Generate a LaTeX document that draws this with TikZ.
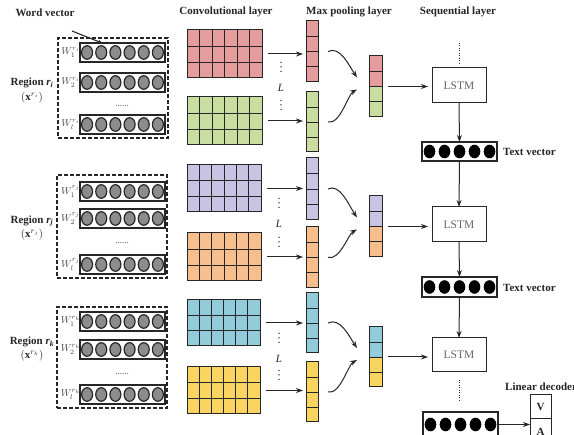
\documentclass[tikz,border=0pt]{standalone}
\usepackage{fontspec}
\setmainfont{Liberation Serif}
\usepackage{amsmath}
\usetikzlibrary{arrows.meta,calc}

\definecolor{cred}{HTML}{E59C9C}
\definecolor{cgreen}{HTML}{C9DDA0}
\definecolor{cpurple}{HTML}{C9C3E3}
\definecolor{corange}{HTML}{F8BF8E}
\definecolor{cblue}{HTML}{92CCDA}
\definecolor{cyellow}{HTML}{F9D460}
\definecolor{ink}{HTML}{262626}
\definecolor{wgray}{HTML}{8C8C8C}

\tikzset{
  lbl/.style={font=\fontsize{11}{12}\selectfont\bfseries, text=ink, inner sep=1pt},
  wlab/.style={font=\fontsize{10}{10}\selectfont, text=ink!85, inner sep=0pt},
  arr/.style={draw=ink, line width=1pt, -{Stealth[length=7pt,width=5pt]}},
  cellline/.style={draw=ink, line width=0.9pt},
  gridbox/.style={draw=ink, line width=1pt},
  regionbox/.style={draw=ink, line width=1.4pt, dash pattern=on 4pt off 2pt},
  rowbox/.style={draw=ink, line width=1.3pt, fill=white},
  lstmbox/.style={draw=ink, line width=1pt, fill=white,
    font=\fontsize{11.5}{12}\selectfont, text=ink!70},
  tvbox/.style={draw=ink, line width=1.1pt, fill=white},
  dotline/.style={draw=ink, line width=1pt, dash pattern=on 1pt off 1.5pt},
}

% rectangle node from its top-left to its bottom-right corner
\newcommand\rectat[7]{%
  \node[#1, anchor=north west, inner sep=0pt, outer sep=0pt,
        minimum width={(#5)-(#3)}, minimum height={(#6)-(#4)}] (#2) at (#3,#4) {#7};}

% convolution feature map: 6 x 3 cells
\newcommand\convgrid[6]{%
  \rectat{gridbox, fill=#6}{#1}{#2}{#3}{#4}{#5}{}
  \foreach \k in {1,...,5}
    \draw[cellline] ($(#1.north west)!\k/6!(#1.north east)$) -- ($(#1.south west)!\k/6!(#1.south east)$);
  \foreach \k in {1,2}
    \draw[cellline] ($(#1.north west)!\k/3!(#1.south west)$) -- ($(#1.north east)!\k/3!(#1.south east)$);}

% pooled column: 4 cells
\newcommand\poolcol[6]{%
  \rectat{gridbox, fill=#6}{#1}{#2}{#3}{#4}{#5}{}
  \foreach \k in {1,2,3}
    \draw[cellline] ($(#1.north west)!\k/4!(#1.south west)$) -- ($(#1.north east)!\k/4!(#1.south east)$);}

% concatenated column: two cells of each colour
\newcommand\catcol[7]{%
  \rectat{gridbox, fill=#7, path picture={\fill[#6] (path picture bounding box.north west) rectangle (path picture bounding box.east);}}{#1}{#2}{#3}{#4}{#5}{}
  \foreach \k in {1,2,3}
    \draw[cellline] ($(#1.north west)!\k/4!(#1.south west)$) -- ($(#1.north east)!\k/4!(#1.south east)$);}

% word vector row with six grey units and its label
\newcommand\wordrow[4]{%
  \rectat{rowbox}{#1}{80}{#2}{165}{#3}{}
  \foreach \k [evaluate=\k as \f using (\k-0.5)/6] in {1,...,6}
    \draw[draw=ink, line width=1.2pt, fill=wgray] ($(#1.west)!\f!(#1.east)$) ellipse (5.5pt and 6.8pt);
  \node[wlab] (#1lab) at (70.5,{(#2+#3)/2}) {$W#4$};}

% text vector with five black units
\newcommand\textvec[5]{%
  \rectat{tvbox}{#1}{#2}{#3}{#4}{#5}{}
  \foreach \k [evaluate=\k as \f using (\k-0.5)/5] in {1,...,5}
    \fill[black] ($(#1.west)!\f!(#1.east)$) ellipse (5.8pt and 6.8pt);}

% three vertical dots
\newcommand\vdotsat[3]{%
  \coordinate (#1) at (#2,#3);
  \foreach \d in {-4.5,0,4.5} \fill[ink] ($(#1)+(0,\d)$) circle (0.75pt);}

\begin{document}
\begin{tikzpicture}[x=1pt, y=-1pt]
\useasboundingbox (0,0) rectangle (574,435);
\clip (0,0) rectangle (574,435);
\fill[white] (0,0) rectangle (574,435);

% ---- column titles
\node[lbl] (twv) at (45,13) {Word vector};
\node[lbl] (tconv) at (226,12) {Convolutional layer};
\node[lbl] (tpool) at (349,12) {Max pooling layer};
\node[lbl] (tseq) at (458,12) {Sequential layer};

% ---- regions of word vectors
\rectat{regionbox}{db1}{58}{38}{168}{138}{}
\rectat{regionbox}{db2}{57}{175}{167}{278}{}
\rectat{regionbox}{db3}{57}{307}{167}{408}{}

\wordrow{ra1}{43}{62}{_1^{r_i}}
\wordrow{ra2}{73}{92}{_2^{r_i}}
\wordrow{ra3}{115}{134}{_l^{r_i}}
\wordrow{rb1}{182}{201}{_1^{r_j}}
\wordrow{rb2}{209}{228}{_2^{r_j}}
\wordrow{rb3}{255}{274}{_l^{r_j}}
\wordrow{rc1}{312}{331}{_1^{r_k}}
\wordrow{rc2}{340}{359}{_2^{r_k}}
\wordrow{rc3}{385}{404}{_l^{r_k}}

\node[wlab, font=\fontsize{9}{9}\selectfont] (ea) at (122,106) {......};
\node[wlab, font=\fontsize{9}{9}\selectfont] (eb) at (122,243) {......};
\node[wlab, font=\fontsize{9}{9}\selectfont] (ec) at (122,374) {......};

\coordinate (wvtail) at (72,31);
\draw[draw=ink, line width=1.1pt, -{Stealth[length=4pt,width=3.5pt]}] (wvtail) -- ([xshift=22pt]ra1.north west);

\node[lbl] (rga) at (32,83) {Region \textit{r}\textsubscript{\textit{i}}};
\node[lbl] (rgax) at (32,98) {$(\mathbf{x}^{r_i})$};
\node[lbl] (rgb) at (32,221) {Region \textit{r}\textsubscript{\textit{j}}};
\node[lbl] (rgbx) at (32,235) {$(\mathbf{x}^{r_j})$};
\node[lbl] (rgc) at (32,342) {Region \textit{r}\textsubscript{\textit{k}}};
\node[lbl] (rgcx) at (32,356) {$(\mathbf{x}^{r_k})$};

% ---- convolutional feature maps
\convgrid{g1}{187}{30}{262}{78}{cred}
\convgrid{g2}{187}{97}{262}{145}{cgreen}
\convgrid{g3}{187}{165}{261}{212}{cpurple}
\convgrid{g4}{187}{233}{261}{281}{corange}
\convgrid{g5}{187}{300}{260}{346}{cblue}
\convgrid{g6}{187}{367}{260}{414}{cyellow}

% ---- max pooled columns
\poolcol{p1}{306}{21}{318}{82}{cred}
\poolcol{p2}{306}{92}{318}{152}{cgreen}
\poolcol{p3}{306}{158}{318}{220}{cpurple}
\poolcol{p4}{306}{227}{318}{288}{corange}
\poolcol{p5}{306}{293}{318}{353}{cblue}
\poolcol{p6}{306}{362}{318}{422}{cyellow}

\foreach \g/\p in {g1/p1,g2/p2,g3/p3,g4/p4,g5/p5,g6/p6}
  \draw[arr, shorten <=6pt, shorten >=3pt] (\g.east) -- (\g.east -| \p.west);

% ---- filter index between paired maps
\vdotsat{da1}{281}{67}  \node[font=\itshape\fontsize{11}{11}\selectfont, text=ink] (la) at (281,88) {L}; \vdotsat{da2}{281}{105}
\vdotsat{db1d}{279}{203} \node[font=\itshape\fontsize{11}{11}\selectfont, text=ink] (lb) at (279,224) {L}; \vdotsat{db2d}{279}{242}
\vdotsat{dc1}{279}{338} \node[font=\itshape\fontsize{11}{11}\selectfont, text=ink] (lc) at (279,359) {L}; \vdotsat{dc2}{279}{375}

% ---- concatenated columns
\catcol{c1}{369}{56}{382}{117}{cred}{cgreen}
\catcol{c2}{369}{196}{382}{257}{cpurple}{corange}
\catcol{c3}{369}{327}{382}{387}{cblue}{cyellow}

\foreach \a/\b/\c in {p1/p2/c1,p3/p4/c2,p5/p6/c3}{
  \draw[arr] ([xshift=10pt]\a.east) .. controls +(12,-6) and +(-8,-12) .. ([xshift=-12pt,yshift=9pt]\c.west);
  \draw[arr] ([xshift=10pt]\b.east) .. controls +(12,3) and +(-9,5) .. ([xshift=-12pt,yshift=-3pt]\c.west);
}

% ---- sequential layer
\rectat{lstmbox}{L1}{432}{68}{486}{103}{LSTM}
\rectat{lstmbox}{L2}{432}{207}{486}{242}{LSTM}
\rectat{lstmbox}{L3}{432}{338}{486}{372}{LSTM}

\textvec{tv1}{422}{142}{497}{161}
\textvec{tv2}{422}{277}{497}{297}
\textvec{tv3}{423}{412}{498}{437}

\foreach \c/\l in {c1/L1,c2/L2,c3/L3}
  \draw[arr, shorten <=6pt, shorten >=4pt] (\c.east) -- (\c.east -| \l.west);

\draw[arr] (L1.south) -- (tv1.north);
\draw[arr] (tv1.south) -- (L2.north);
\draw[arr] (L2.south) -- (tv2.north);
\draw[arr] (tv2.south) -- (L3.north);

\coordinate (seqtop) at (459,43);
\draw[dotline, shorten >=4pt] (seqtop) -- (L1.north);
\coordinate (seqbot) at (459,402);
\draw[dotline, shorten <=8pt] (L3.south) -- (seqbot);

\node[lbl, anchor=west] (tvl1) at (502,152) {Text vector};
\node[lbl, anchor=west] (tvl2) at (502,288) {Text vector};

% ---- linear decoder
\rectat{draw=ink, line width=1pt, fill=white}{dec}{530}{395}{551}{450}{}
\draw[draw=ink, line width=1pt] ($(dec.north west)+(0,24)$) -- ($(dec.north east)+(0,24)$);
\node[lbl] (decv) at (540.5,407) {V};
\node[lbl] (deca) at (540.5,432) {A};
\node[lbl, anchor=west] (decl) at (504,387) {Linear decoder};
\draw[arr] (tv3.east) -- (tv3.east -| dec.west);

\end{tikzpicture}
\end{document}
